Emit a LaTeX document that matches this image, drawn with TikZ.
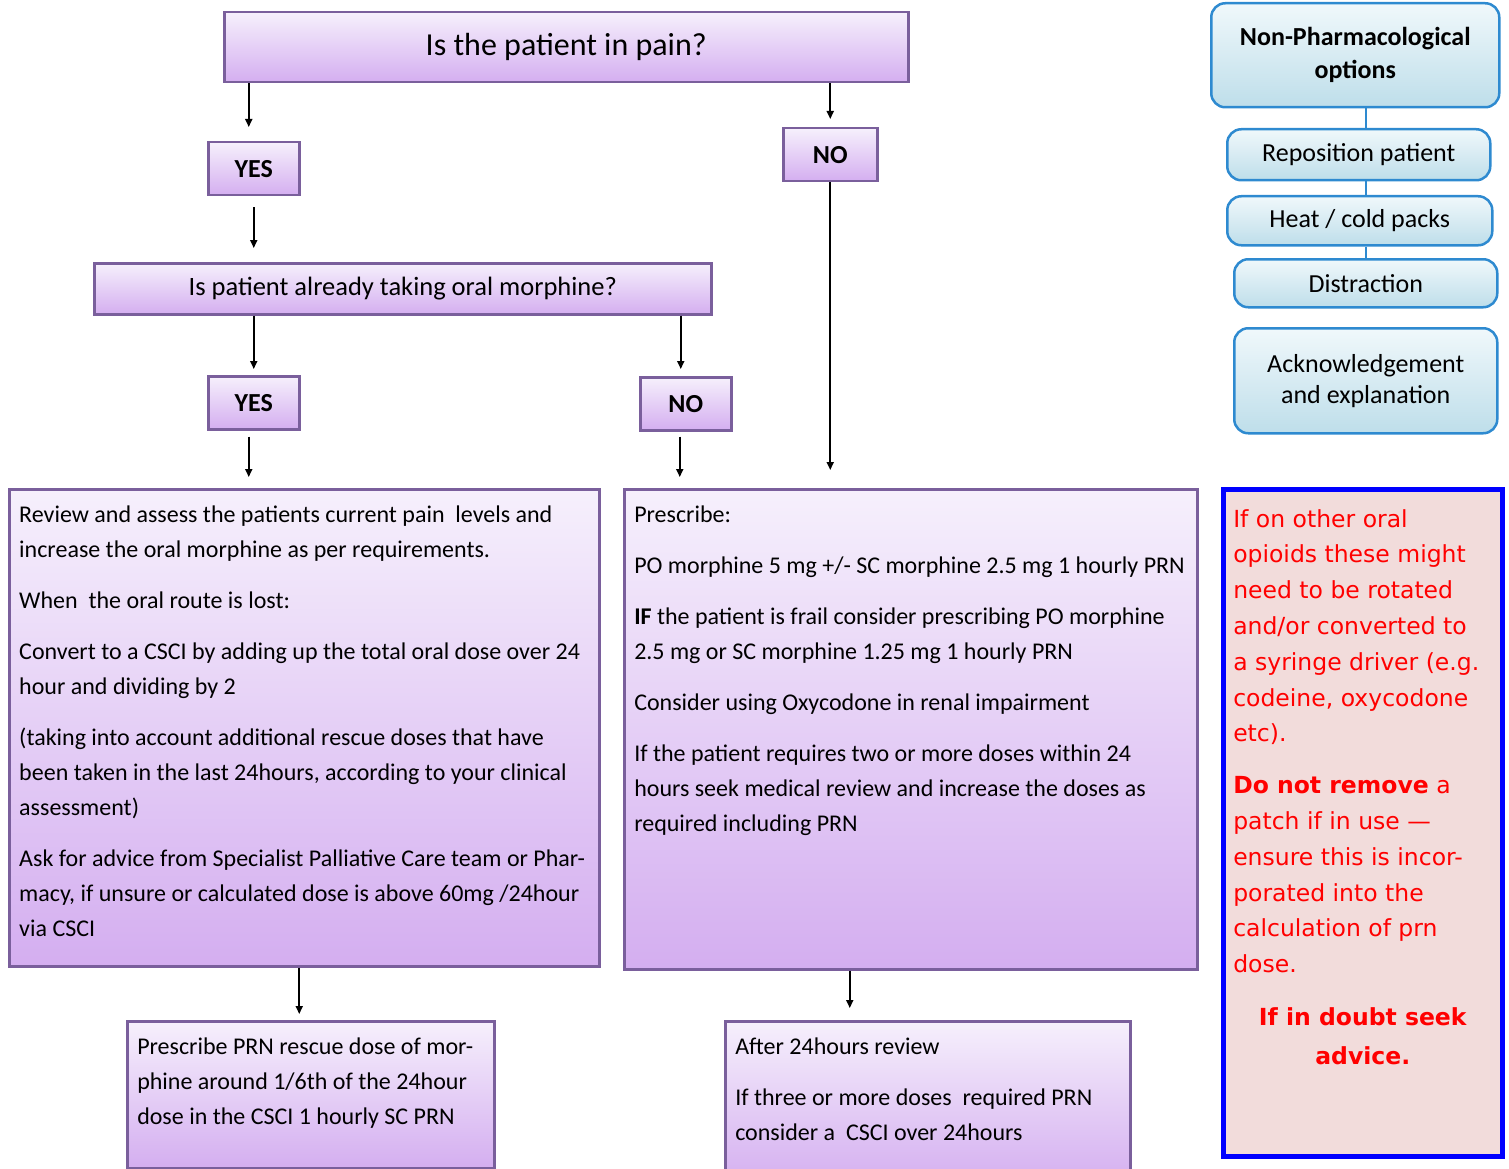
\documentclass[tikz,border=0pt]{standalone}
\usepackage{fontspec}
\setmainfont{Carlito}
\newfontfamily\vfont{DejaVu Sans}
\usetikzlibrary{positioning,arrows.meta}

\definecolor{ptop}{HTML}{F6F0FC}
\definecolor{pbot}{HTML}{D4AEF0}
\definecolor{pline}{HTML}{7A5F9C}
\definecolor{btop}{HTML}{F0F8FB}
\definecolor{bbot}{HTML}{BEDEEA}
\definecolor{bline}{HTML}{2E8AD0}
\definecolor{rfill}{HTML}{F2DCDB}

\begin{document}
\begin{tikzpicture}[x=1pt, y=-1pt, font=\fontsize{24}{35}\selectfont,
  pb/.style={draw=pline, line width=2.5pt, top color=ptop, bottom color=pbot, inner sep=0pt},
  tb/.style={pb, anchor=north west, inner xsep=10pt, inner ysep=17pt},
  yn/.style={pb, anchor=north west, minimum width=91pt, minimum height=53pt, font=\fontsize{26}{28}\selectfont\bfseries},
  ob/.style={draw=bline, line width=2.5pt, rounded corners=14pt, top color=btop, bottom color=bbot, inner sep=0pt, align=center, anchor=north west, font=\fontsize{26}{31}\selectfont},
  ar/.style={-{Triangle[length=8pt,width=7pt]}, line width=1.8pt},
  bc/.style={draw=bline, line width=2.5pt}]

\useasboundingbox (0,0) rectangle (1509,1169);

% decision boxes
\node[pb, anchor=north west, minimum width=684pt, minimum height=70pt, font=\fontsize{32}{36}\selectfont] (pain) at (223,11) {Is the patient in pain?};
\node[yn] (yes1) at (207,141) {YES};
\node[yn, minimum width=94pt] (no1) at (782,127) {NO};
\node[pb, anchor=north west, minimum width=617pt, minimum height=51pt, font=\fontsize{26.5}{30}\selectfont] (oral) at (93,262) {Is patient already taking oral morphine?};
\node[yn] (yes2) at (207,375) {YES};
\node[yn] (no2) at (639,376) {NO};

% text boxes
\node[tb] (review) at (8,488) {\parbox[t][443pt][t]{570pt}{\raggedright
Review and assess the patients current pain~ levels and\\
increase the oral morphine as per requirements.\\[16pt]
When~ the oral route is lost:\\[16pt]
Convert to a CSCI by adding up the total oral dose over 24\\
hour and dividing by 2\\[16pt]
(taking into account additional rescue doses that have\\
been taken in the last 24hours, according to your clinical\\
assessment)\\[16pt]
Ask for advice from Specialist Palliative Care team or Phar-\\
macy, if unsure or calculated dose is above 60mg /24hour\\
via CSCI}};
\node[tb] (presc) at (623,488) {\parbox[t][446pt][t]{553pt}{\raggedright
Prescribe:\\[16pt]
PO morphine 5 mg +/- SC morphine 2.5 mg 1 hourly PRN\\[16pt]
\textbf{IF} the patient is frail consider prescribing PO morphine\\
2.5 mg or SC morphine 1.25 mg 1 hourly PRN\\[16pt]
Consider using Oxycodone in renal impairment\\[16pt]
If the patient requires two or more doses within 24\\
hours seek medical review and increase the doses as\\
required including PRN}};
\node[tb] (rescue) at (126,1020) {\parbox[t][113pt][t]{347pt}{\raggedright
Prescribe PRN rescue dose of mor-\\
phine around 1/6th of the 24hour\\
dose in the CSCI 1 hourly SC PRN}};
\node[tb] (after) at (724,1020) {\parbox[t][130pt][t]{385pt}{\raggedright
After 24hours review\\[16pt]
If three or more doses~ required PRN\\
consider a~ CSCI over 24hours}};

% non-pharmacological options
\node[ob, minimum width=288pt, minimum height=104pt, font=\fontsize{26}{33}\selectfont\bfseries] (np) at (1210,2) {Non-Pharmacological\\options};
\node[ob, minimum width=263pt, minimum height=51pt] (repos) at (1226,128) {Reposition patient};
\node[ob, minimum width=265pt, minimum height=49pt] (heat) at (1226,195) {Heat / cold packs};
\node[ob, minimum width=263pt, minimum height=48pt] (distr) at (1233,258) {Distraction};
\node[ob, minimum width=263pt, minimum height=105pt] (ackn) at (1233,327) {Acknowledgement\\and explanation};

\path[bc] (np.south -| ackn.north) edge (repos.north -| ackn.north);
\path[bc] (repos.south -| ackn.north) edge (heat.north -| ackn.north);
\path[bc] (heat.south -| ackn.north) edge (distr.north);

% warning box
\node[draw=blue, line width=4.5pt, fill=rfill, anchor=north west, inner xsep=10pt, inner ysep=20pt, text=red] (warn) at (1221,487) {\parbox[t][627pt][t]{259pt}{\vfont\fontsize{23.5}{35.8}\selectfont\raggedright
If on other oral\\
opioids these might\\
need to be rotated\\
and/or converted to\\
a syringe driver (e.g.\\
codeine, oxycodone\\
etc).\\[16pt]
\textbf{Do not remove} a\\
patch if in use —\\
ensure this is incor-\\
porated into the\\
calculation of prn\\
dose.\par\vspace{17pt}
{\centering\bfseries If in doubt seek\\[3pt] advice.\par}}};

% arrows
\draw[ar, shorten >=14pt] ([xshift=-5pt]yes1.north |- pain.south) -- ([xshift=-5pt]yes1.north);
\draw[ar, shorten >=8pt] (no1.north |- pain.south) -- (no1.north);
\draw[ar, shorten <=11pt, shorten >=14pt] (yes1.south) -- (yes1.south |- oral.north);
\draw[ar, shorten >=18pt] (no1.south) -- (no1.south |- presc.north);
\draw[ar, shorten >=6pt] (yes2.north |- oral.south) -- (yes2.north);
\draw[ar, shorten >=7pt] ([xshift=-5pt]no2.north |- oral.south) -- ([xshift=-5pt]no2.north);
\draw[ar, shorten <=6pt, shorten >=11pt] ([xshift=-5pt]yes2.south) -- ([xshift=-5pt]yes2.south |- review.north);
\draw[ar, shorten <=5pt, shorten >=11pt] ([xshift=-6pt]no2.south) -- ([xshift=-6pt]no2.south |- presc.north);
\draw[ar, shorten >=6pt] ([xshift=-5pt]review.south) -- ([xshift=-5pt]review.south |- rescue.north);
\draw[ar, shorten >=12pt] ([xshift=-61pt]presc.south) -- ([xshift=-61pt]presc.south |- after.north);
\end{tikzpicture}
\end{document}
